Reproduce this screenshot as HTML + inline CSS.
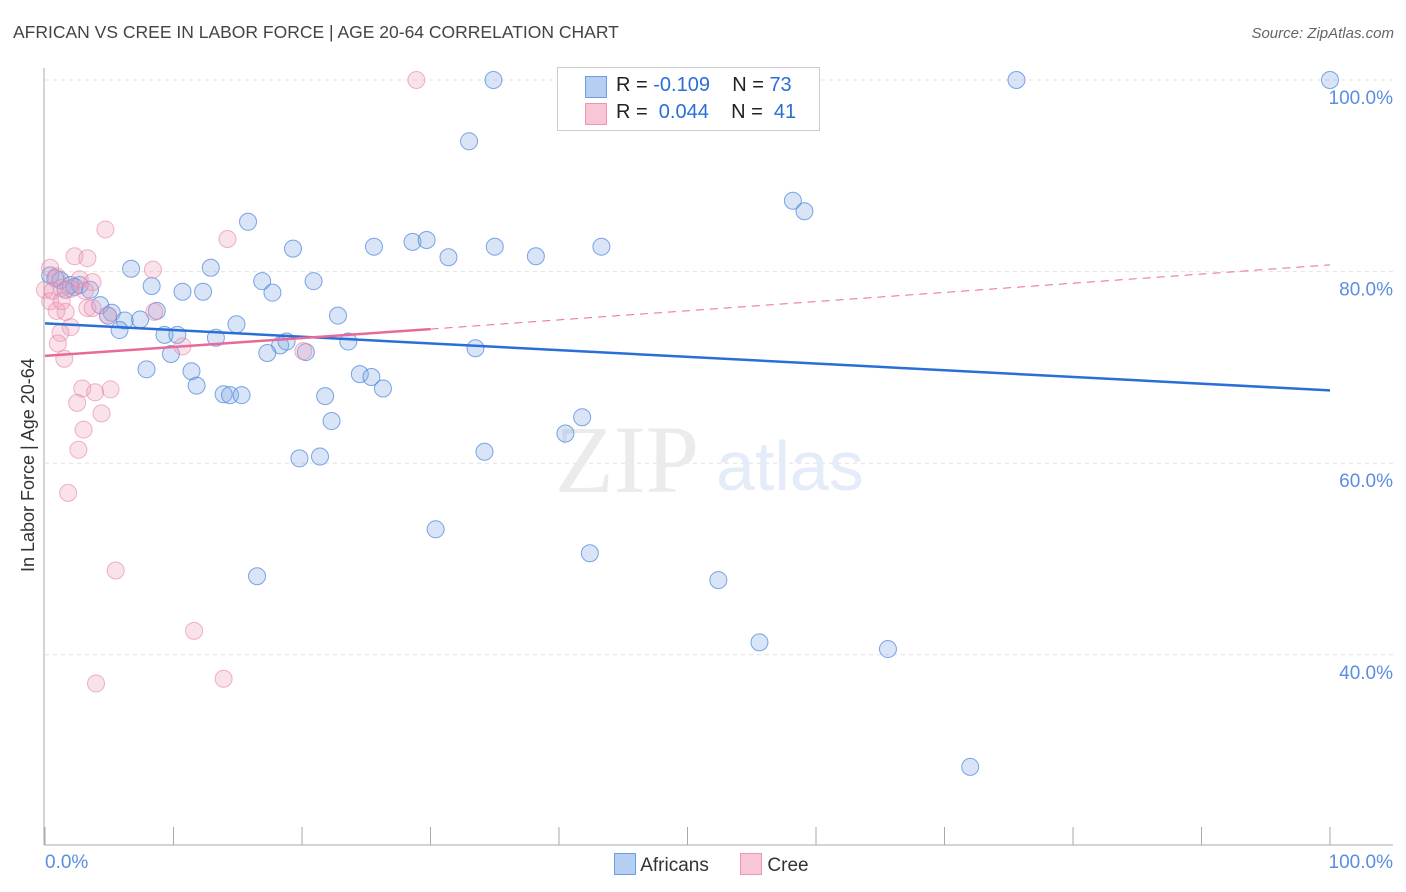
<!DOCTYPE html>
<html><head><meta charset="utf-8"><style>
body{margin:0;background:#fff;font-family:"Liberation Sans",sans-serif;}
#c{position:relative;width:1406px;height:892px;overflow:hidden}
</style></head><body>
<div id="c">
<svg id="s" width="1406" height="892"></svg>
</div>
<script>
const blueX=[34.9,75.6,100,33.0,58.2,59.1,15.8,19.3,25.6,28.6,29.7,35.0,31.4,38.2,43.3,6.7,12.9,16.9,20.9,8.3,10.7,12.3,17.7,0.4,1.2,2.0,2.7,3.5,4.3,5.2,4.9,6.2,7.4,8.7,5.8,9.3,10.3,14.9,22.8,13.3,18.3,18.8,17.3,20.3,23.6,9.8,33.5,7.9,11.4,11.8,24.5,25.4,26.3,13.9,14.4,15.3,21.8,22.3,41.8,40.5,34.2,19.8,21.4,30.4,42.4,16.5,52.4,55.6,65.6,72.0,0.8,1.6,2.3];
const blueY=[100,100,100,93.6,87.4,86.3,85.2,82.4,82.6,83.1,83.3,82.6,81.5,81.6,82.6,80.3,80.4,79.0,79.0,78.5,77.9,77.9,77.8,79.6,79.1,78.6,78.6,78.1,76.5,75.7,75.4,74.9,75.0,75.9,73.9,73.4,73.4,74.5,75.4,73.1,72.3,72.7,71.5,71.6,72.7,71.4,72.0,69.8,69.6,68.1,69.3,69.0,67.8,67.2,67.1,67.1,67.0,64.4,64.8,63.1,61.2,60.5,60.7,53.1,50.6,48.2,47.8,41.3,40.6,28.3,79.3,78.1,78.4];
const pinkX=[28.9,4.7,14.2,2.3,3.3,8.4,0.4,0.9,2.7,3.7,0,1.3,2.0,3.3,3.7,0.9,1.6,8.5,2.0,1.2,1.0,10.7,1.5,20.1,2.9,5.1,3.9,2.5,4.4,3.0,2.6,1.8,5.5,11.6,3.97,13.9,4.9,0.4,0.6,3.1,1.3];
const pinkY=[100,84.4,83.4,81.6,81.4,80.2,80.4,79.5,79.2,78.9,78.1,78.3,78.2,76.2,76.2,75.9,75.8,75.8,74.2,73.6,72.5,72.2,70.9,71.7,67.8,67.7,67.4,66.3,65.2,63.5,61.4,56.9,48.8,42.5,37.0,37.5,75.4,76.9,78.0,78.0,76.9];
const yTicks=[100,80,60,40];
const yTickLabels=["100.0%","80.0%","60.0%","40.0%"];
const ns="http://www.w3.org/2000/svg",s=document.getElementById('s');
const X=v=>45+v*12.85, Y=v=>1038-v*9.58;
function el(t,a,txt){const e=document.createElementNS(ns,t);for(const k in a)e.setAttribute(k,a[k]);if(txt!=null)e.textContent=txt;s.appendChild(e);return e;}
let e;
yTicks.forEach((t,i)=>{e=el('line',{x1:45,x2:1393,y1:Y(t),y2:Y(t),stroke:'#e2e2e2','stroke-dasharray':'4,4'});
e=el('text',{x:1393,y:Y(t)+24,'text-anchor':'end','font-size':19,fill:'#5a8ee0'},yTickLabels[i]);});
e=el('line',{x1:44,x2:44,y1:68,y2:845,stroke:'#aaa'});
e=el('line',{x1:44,x2:1393,y1:845,y2:845,stroke:'#aaa'});
for(let i=0;i<=10;i++){e=el('line',{x1:45+i*128.5,x2:45+i*128.5,y1:827,y2:845,stroke:'#aaa'});}
el('text',{x:555,y:492,'font-size':96,fill:'#ebebeb','font-family':'Liberation Serif'},'ZIP');
el('text',{x:716,y:490,'font-size':70,fill:'#e3ecf8'},'atlas');
blueX.forEach((v,i)=>{e=el('circle',{cx:X(v),cy:Y(blueY[i]),r:8.5,fill:'rgba(130,170,230,0.3)',stroke:'rgba(70,130,220,0.7)','stroke-width':1});});
pinkX.forEach((v,i)=>{e=el('circle',{cx:X(v),cy:Y(pinkY[i]),r:8.5,fill:'rgba(240,160,190,0.3)',stroke:'rgba(230,130,165,0.6)','stroke-width':1});});
e=el('line',{x1:X(0),y1:Y(74.6),x2:X(100),y2:Y(67.6),stroke:'#2a6fd6','stroke-width':2.5});
e=el('line',{x1:X(0),y1:Y(71.2),x2:X(30),y2:Y(74.0),stroke:'#e86a9a','stroke-width':2.5});
e=el('line',{x1:X(30),y1:Y(74.0),x2:X(100),y2:Y(80.7),stroke:'#e86a9a','stroke-width':1,'stroke-dasharray':'8,6'});
</script>
<div style="position:absolute;left:13px;top:22px;font-size:17.5px;color:#444">AFRICAN VS CREE IN LABOR FORCE | AGE 20-64 CORRELATION CHART</div>
<div style="position:absolute;right:12px;top:25px;font-size:15px;font-style:italic;color:#666">Source: ZipAtlas.com</div>
<div style="position:absolute;left:18px;top:572px;transform:rotate(-90deg);transform-origin:0 0;font-size:18px;color:#333;white-space:nowrap">In Labor Force | Age 20-64</div>
<div style="position:absolute;left:45px;top:852px;font-size:19px;color:#5a8ee0">0.0%</div>
<div style="position:absolute;right:13px;top:852px;font-size:19px;color:#5a8ee0">100.0%</div>
<div style="position:absolute;left:557px;top:67px;width:261px;height:62px;border:1px solid #ccc;background:#fff;font-size:20px;color:#222">
<div style="position:absolute;left:27px;top:8px;width:20px;height:20px;background:#b5cff3;border:1px solid #6f9be0"></div>
<div style="position:absolute;left:58px;top:6px">R = <span style="color:#2a6fd6">-0.109</span>&nbsp;&nbsp;&nbsp; N = <span style="color:#2a6fd6">73</span></div>
<div style="position:absolute;left:27px;top:35px;width:20px;height:20px;background:#f8c6d6;border:1px solid #ec98b4"></div>
<div style="position:absolute;left:58px;top:33px">R = &nbsp;<span style="color:#2a6fd6">0.044</span>&nbsp;&nbsp;&nbsp; N = &nbsp;<span style="color:#2a6fd6">41</span></div>
</div>
<div style="position:absolute;left:614px;top:853px;font-size:19px;color:#333">
<span style="display:inline-block;width:20px;height:20px;background:#b5cff3;border:1px solid #6f9be0;vertical-align:-4px"></span> Africans
<span style="display:inline-block;width:20px;height:20px;background:#f8c6d6;border:1px solid #ec98b4;vertical-align:-4px;margin-left:26px"></span> Cree
</div>
</body></html>
